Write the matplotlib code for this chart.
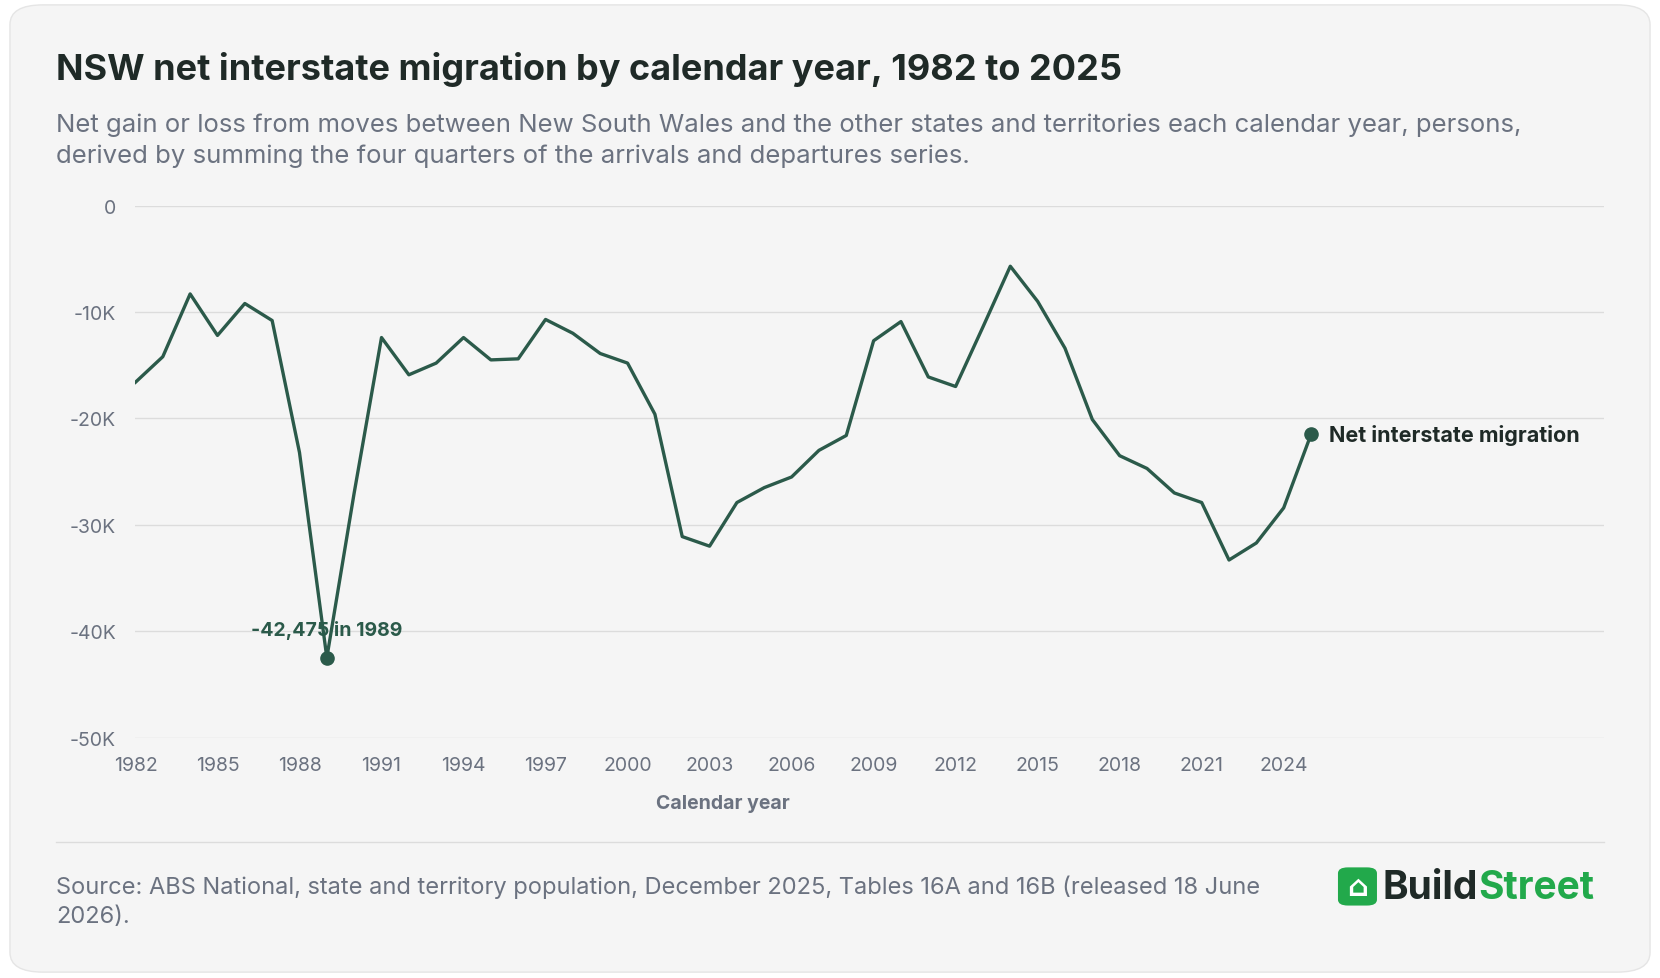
import matplotlib.pyplot as plt
from matplotlib.patches import FancyBboxPatch
from matplotlib.ticker import FuncFormatter

plt.rcParams['font.family'] = ['Inter', 'DejaVu Sans']

years = list(range(1982, 2026))
net = [-16.6, -14.2, -8.3, -12.2, -9.2, -10.8, -23.2, -42.475, -27.0, -12.4,
       -15.9, -14.8, -12.4, -14.5, -14.4, -10.7, -12.0, -13.9, -14.8, -19.6,
       -31.1, -32.0, -27.9, -26.5, -25.5, -23.0, -21.6, -12.7, -10.9, -16.1,
       -17.0, -11.4, -5.7, -9.0, -13.4, -20.1, -23.5, -24.7, -27.0, -27.9,
       -33.3, -31.7, -28.4, -21.5]
net = [v * 1000 for v in net]

LINE = "#2b5a4a"
GREY = "#6b7280"
DARK = "#1f2a27"

fig = plt.figure(figsize=(16.6, 9.79), dpi=100)
fig.patch.set_facecolor("white")
card = FancyBboxPatch((0.006, 0.006), 0.988, 0.988, boxstyle="round,pad=0,rounding_size=0.02",
                      transform=fig.transFigure, facecolor="#f5f5f5", edgecolor="#e5e5e5", zorder=-10)
fig.patches.append(card)

ax = fig.add_axes([0.0816, 0.2454, 0.8844, 0.5436])
ax.set_facecolor("none")
ax.plot(years, net, color=LINE, lw=2.4, zorder=3)
ax.set_xlim(1982, 2035.7)
ax.set_ylim(-50000, 0)
ax.set_yticks(range(-50000, 1, 10000))
ax.yaxis.set_major_formatter(FuncFormatter(lambda v, p: "0" if v == 0 else f"{int(v/1000)}K"))
ax.set_xticks(range(1982, 2025, 3))
ax.grid(axis="y", color="#dcdcdc", lw=1)
ax.tick_params(length=0, labelsize=14, labelcolor=GREY, pad=13)
ax.tick_params(axis="y", pad=14)
for s in ax.spines.values():
    s.set_visible(False)
ax.set_xlabel("Calendar year", fontsize=14, color=GREY, fontweight="bold")
ax.xaxis.set_label_coords(0.4, -0.105)

# annotations
ax.scatter([years[7]], [net[7]], s=90, color=LINE, zorder=4)
ax.text(years[7], net[7] + 1800, "-42,475 in 1989", ha="center", va="bottom",
        fontsize=14, fontweight="bold", color=LINE)
ax.scatter([years[-1]], [net[-1]], s=90, color=LINE, zorder=4)
ax.text(years[-1] + 0.65, net[-1], "Net interstate migration", ha="left", va="center",
        fontsize=15.5, fontweight="bold", color=DARK)

fig.text(0.034, 0.929, "NSW net interstate migration by calendar year, 1982 to 2025",
         fontsize=26, fontweight="bold", color=DARK, va="center")
fig.text(0.034, 0.856, "Net gain or loss from moves between New South Wales and the other states and territories each calendar year, persons,\nderived by summing the four quarters of the arrivals and departures series.",
         fontsize=18.5, color=GREY, va="center", linespacing=1.4)

fig.add_artist(plt.Line2D([0.034, 0.966], [0.139, 0.139], color="#dcdcdc", lw=1, transform=fig.transFigure))
fig.text(0.034, 0.079, "Source: ABS National, state and territory population, December 2025, Tables 16A and 16B (released 18 June\n2026).",
         fontsize=17, color=GREY, va="center", linespacing=1.4)

# logo
fig.patches.append(FancyBboxPatch((0.806, 0.074), 0.0235, 0.039, boxstyle="round,pad=0,rounding_size=0.006",
                                  transform=fig.transFigure, facecolor="#22a94b", edgecolor="none"))
fig.text(0.8178, 0.093, "⌂", fontsize=21, color="white", fontweight="bold", ha="center", va="center",
         family=["DejaVu Sans"])
t = fig.text(0.833, 0.092, "Build", fontsize=28, fontweight="bold", color=DARK, va="center")
fig.canvas.draw()
bb = t.get_window_extent().transformed(fig.transFigure.inverted())
fig.text(bb.x1, 0.092, "Street", fontsize=28, fontweight="bold", color="#22a94b", va="center")

fig.savefig("out.png", dpi=100, facecolor=fig.get_facecolor())
